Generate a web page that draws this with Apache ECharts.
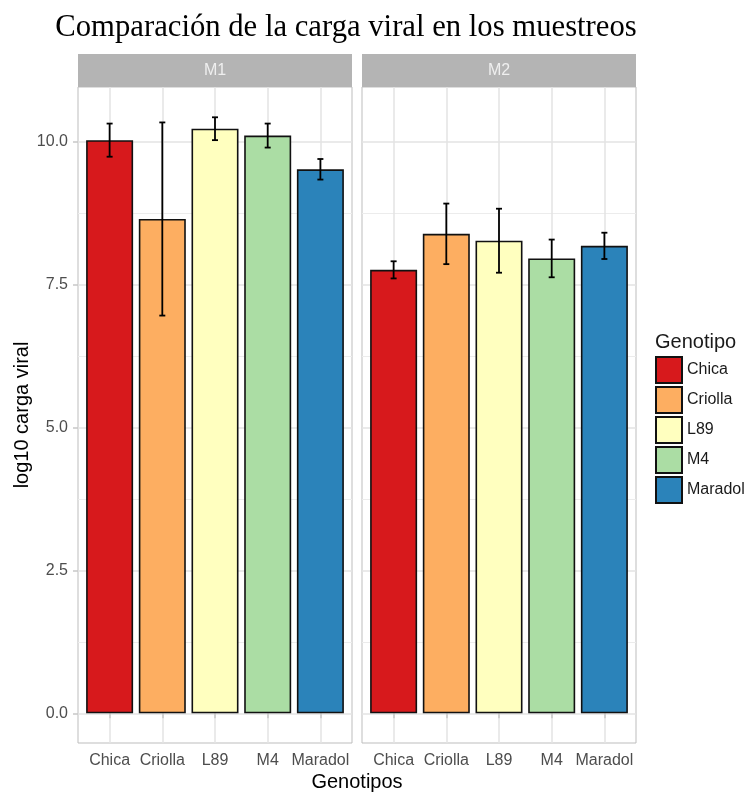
<!DOCTYPE html>
<html>
<head>
<meta charset="utf-8">
<script src="https://cdn.jsdelivr.net/npm/echarts@6/dist/echarts.min.js"></script>
<style>
  html, body { margin: 0; padding: 0; background: #fff; }
  #chart { width: 752px; height: 792px; }
</style>
</head>
<body>
<div id="chart"></div>
<script>
// datos
var genotipos = ['Chica', 'Criolla', 'L89', 'M4', 'Maradol'];
var colores = ['#d7191c', '#fdae61', '#ffffbf', '#abdda4', '#2b83ba'];
var muestreos = ['M1', 'M2'];
var m1Media = [10.03, 8.65, 10.23, 10.11, 9.52];
var m1Error = [0.29, 1.69, 0.20, 0.21, 0.18];
var m2Media = [7.76, 8.39, 8.27, 7.96, 8.18];
var m2Error = [0.15, 0.53, 0.56, 0.33, 0.23];
var yTicks = [0, 2.5, 5, 7.5, 10];
var yMinor = [1.25, 3.75, 6.25, 8.75];
var xPos = [1, 2, 3, 4, 5];

document.addEventListener('DOMContentLoaded', function () {
  var myChart = echarts.init(document.getElementById('chart'));

  var medias = [m1Media, m2Media];
  var errores = [m1Error, m2Error];
  var paneles = [
    { left: 78, width: 274 },
    { left: 362, width: 274 }
  ];
  var gridLine = '#e3e3e3';
  var yMin = -0.52, yMax = 10.96;

  function renderError(params, api) {
    var x = api.value(0);
    var lo = api.coord([x, api.value(1)]);
    var hi = api.coord([x, api.value(2)]);
    var w = 3;
    var st = { stroke: '#000', lineWidth: 1.8 };
    return {
      type: 'group',
      children: [
        { type: 'line', shape: { x1: hi[0], y1: hi[1], x2: lo[0], y2: lo[1] }, style: st },
        { type: 'line', shape: { x1: hi[0] - w, y1: hi[1], x2: hi[0] + w, y2: hi[1] }, style: st },
        { type: 'line', shape: { x1: lo[0] - w, y1: lo[1], x2: lo[0] + w, y2: lo[1] }, style: st }
      ]
    };
  }

  var grids = [], xAxes = [], yAxes = [], series = [], graphics = [];

  paneles.forEach(function (p, k) {
    grids.push({
      left: p.left, width: p.width, top: 87, height: 656,
      show: true, borderColor: '#bdbdbd', borderWidth: 1, backgroundColor: '#fff'
    });
    xAxes.push({
      type: 'value', gridIndex: k, min: 0.4, max: 5.6,
      axisLine: { show: false },
      axisTick: { show: true, customValues: xPos, length: 5, lineStyle: { color: '#c8c8c8', width: 1.5 } },
      axisLabel: {
        customValues: xPos, margin: 10, color: '#4d4d4d', fontSize: 16,
        fontFamily: 'Liberation Sans',
        formatter: function (v) { return genotipos[Math.round(v) - 1]; }
      },
      splitLine: { show: true, lineStyle: { color: gridLine, width: 1.5 } }
    });
    yAxes.push({
      type: 'value', gridIndex: k, min: yMin, max: yMax,
      name: k === 0 ? 'log10 carga viral' : '',
      nameLocation: 'middle', nameGap: 44, nameRotate: 90,
      nameTextStyle: { color: '#000', fontSize: 20, fontFamily: 'Liberation Sans' },
      axisLine: { show: false },
      axisTick: { show: k === 0, customValues: yTicks, length: 5, lineStyle: { color: '#c8c8c8', width: 1.5 } },
      axisLabel: {
        show: k === 0, customValues: yTicks, margin: 10, color: '#4d4d4d', fontSize: 16,
        fontFamily: 'Liberation Sans',
        formatter: function (v) { return v.toFixed(1); }
      },
      splitLine: { show: true, lineStyle: { color: gridLine, width: 1.5 } }
    });

    genotipos.forEach(function (g, i) {
      series.push({
        name: g, type: 'bar', xAxisIndex: k, yAxisIndex: k,
        barWidth: 47, barGap: '-100%',
        data: [[xPos[i], medias[k][i]]],
        itemStyle: { color: colores[i], borderColor: '#111', borderWidth: 1.6 },
        silent: true, z: 3
      });
    });

    series.push({
      type: 'custom', xAxisIndex: k, yAxisIndex: k,
      renderItem: renderError,
      data: medias[k].map(function (m, i) {
        return [xPos[i], m - errores[k][i], m + errores[k][i]];
      }),
      encode: { x: 0, y: [1, 2] },
      silent: true, z: 5
    });

    graphics.push({
      type: 'rect', shape: { x: p.left, y: 54, width: p.width, height: 33 },
      style: { fill: '#b4b4b4' }
    });
    graphics.push({
      type: 'text', x: p.left + p.width / 2, y: 71,
      style: {
        text: muestreos[k], align: 'center', verticalAlign: 'middle',
        fill: '#efefef', font: '16px "Liberation Sans"'
      }
    });
  });

  // líneas menores horizontales
  paneles.forEach(function (p, k) {
    yAxes.push({
      type: 'value', gridIndex: k, min: yMin, max: yMax, position: 'left',
      axisLine: { show: false },
      axisTick: { show: false, customValues: yMinor },
      axisLabel: { show: false, customValues: yMinor },
      splitLine: { show: true, lineStyle: { color: '#ececec', width: 1 } }
    });
  });

  graphics.push({
    type: 'text', x: 357, y: 782,
    style: {
      text: 'Genotipos', align: 'center', verticalAlign: 'middle',
      fill: '#000', font: '20px "Liberation Sans"'
    }
  });

  var option = {
    animation: false,
    title: [{
      text: 'Comparación de la carga viral en los muestreos',
      left: 346, top: 12, textAlign: 'center', padding: 0,
      textStyle: { fontFamily: 'Liberation Serif', fontSize: 30.7, fontWeight: 'normal', color: '#000' }
    }, {
      text: 'Genotipo',
      left: 655, top: 332, padding: 0,
      textStyle: { fontFamily: 'Liberation Sans', fontSize: 20, fontWeight: 'normal', color: '#1a1a1a' }
    }],
    legend: {
      data: genotipos,
      orient: 'vertical',
      left: 655, top: 356, padding: 0,
      itemWidth: 26, itemHeight: 26, itemGap: 2,
      icon: 'rect',
      selectedMode: false,
      textStyle: { fontFamily: 'Liberation Sans', fontSize: 16, color: '#1a1a1a' }
    },
    grid: grids,
    xAxis: xAxes,
    yAxis: yAxes,
    series: series,
    graphic: graphics
  };

  myChart.setOption(option);

  window.addEventListener('resize', function () {
    myChart.resize();
  });
});
</script>
</body>
</html>
